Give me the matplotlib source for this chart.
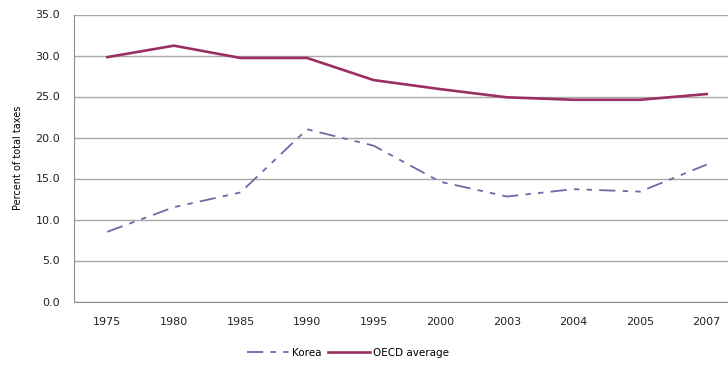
import matplotlib
matplotlib.use('Agg')
import matplotlib.pyplot as plt

years = ['1975', '1980', '1985', '1990', '1995', '2000', '2003', '2004', '2005', '2007']
korea = [8.5, 11.5, 13.3, 21.0, 19.0, 14.6, 12.8, 13.7, 13.4, 16.7]
oecd = [29.8, 31.2, 29.7, 29.7, 27.0, 25.9, 24.9, 24.6, 24.6, 25.3]

plt.rcParams['font.family'] = 'DejaVu Sans'

fig = plt.figure(figsize=(7.28, 3.67), dpi=100)
ax = fig.add_axes([74 / 728, 65.5 / 367, 666 / 728, 287 / 367])

x = range(len(years))
ax.plot(x, korea, color='#6a6aa6', linewidth=1.3, dashes=(9, 4, 3, 4, 3, 4), label='Korea')
ax.plot(x, oecd, color='#9c2f62', linewidth=1.9, label='OECD average')

ax.set_xlim(-0.5, len(years) - 0.5)
ax.set_ylim(0, 35)
ax.set_yticks([0, 5, 10, 15, 20, 25, 30, 35])
ax.set_yticklabels([f'{v:.1f}' for v in [0, 5, 10, 15, 20, 25, 30, 35]])
ax.set_xticks(list(x))
ax.set_xticklabels(years)
ax.tick_params(length=0, labelsize=8, colors='#222222', pad=11)
ax.tick_params(axis='y', pad=10)
ax.grid(True, axis='y', color='#a8a8a8', linewidth=1.0)
ax.set_axisbelow(True)
for s in ['top', 'right']:
    ax.spines[s].set_visible(False)
for s in ['left', 'bottom']:
    ax.spines[s].set_color('#8c8c8c')
ax.set_ylabel('Percent of total taxes', fontsize=7, labelpad=9)

fig.legend(loc='center', bbox_to_anchor=(348 / 728, 1 - 353 / 367), ncol=2,
           frameon=False, fontsize=7.5, handlelength=4, columnspacing=0.6,
           handletextpad=0.3)

fig.savefig('out.png', dpi=100)
